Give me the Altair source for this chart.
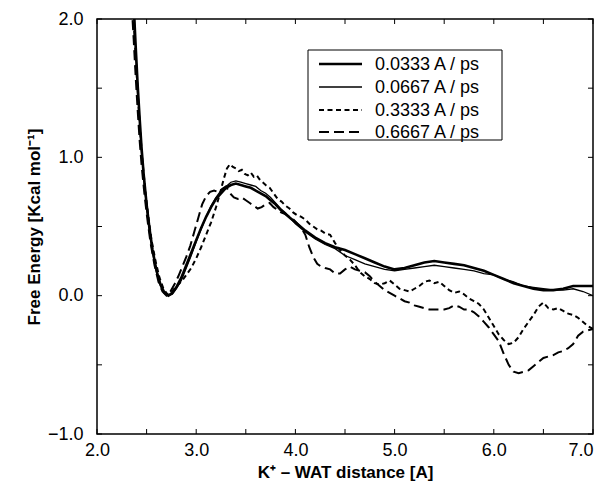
import altair as alt
import pandas as pd

# ---- data ----
x_s1 = [2.37, 2.39, 2.41, 2.43, 2.45, 2.47, 2.50, 2.53, 2.56, 2.60, 2.64, 2.68, 2.72, 2.76, 2.80,
        2.85, 2.90, 2.95, 3.00, 3.05, 3.10, 3.15, 3.20, 3.25, 3.30, 3.35, 3.40, 3.45, 3.50, 3.55,
        3.60, 3.65, 3.70, 3.75, 3.80, 3.85, 3.90, 3.95, 4.00, 4.10, 4.20, 4.30, 4.40, 4.50, 4.60,
        4.70, 4.80, 4.90, 5.00, 5.10, 5.20, 5.30, 5.40, 5.50, 5.60, 5.70, 5.80, 5.90, 6.00, 6.10,
        6.20, 6.30, 6.40, 6.50, 6.60, 6.70, 6.80, 6.90, 7.00]
y_s1 = [2.10, 1.80, 1.52, 1.28, 1.06, 0.88, 0.66, 0.48, 0.33, 0.18, 0.08, 0.02, 0.00, 0.02, 0.06,
        0.13, 0.22, 0.31, 0.40, 0.49, 0.57, 0.64, 0.70, 0.74, 0.78, 0.80, 0.81, 0.80, 0.79, 0.78,
        0.76, 0.74, 0.72, 0.69, 0.66, 0.62, 0.59, 0.56, 0.53, 0.47, 0.42, 0.38, 0.35, 0.33, 0.30,
        0.27, 0.24, 0.21, 0.19, 0.20, 0.22, 0.24, 0.25, 0.24, 0.23, 0.22, 0.20, 0.18, 0.15, 0.12,
        0.09, 0.07, 0.05, 0.04, 0.04, 0.05, 0.07, 0.07, 0.07]

x_s2 = [2.37, 2.39, 2.41, 2.43, 2.45, 2.47, 2.50, 2.53, 2.56, 2.60, 2.64, 2.68, 2.72, 2.76, 2.80,
        2.85, 2.90, 2.95, 3.00, 3.05, 3.10, 3.15, 3.20, 3.25, 3.30, 3.35, 3.40, 3.45, 3.50, 3.55,
        3.60, 3.65, 3.70, 3.75, 3.80, 3.85, 3.90, 3.95, 4.00, 4.10, 4.20, 4.30, 4.40, 4.50, 4.60,
        4.70, 4.80, 4.90, 5.00, 5.10, 5.20, 5.30, 5.40, 5.50, 5.60, 5.70, 5.80, 5.90, 6.00, 6.10,
        6.20, 6.30, 6.40, 6.50, 6.60, 6.70, 6.80, 6.90, 7.00]
y_s2 = [2.10, 1.78, 1.50, 1.26, 1.04, 0.86, 0.64, 0.46, 0.31, 0.17, 0.07, 0.02, 0.00, 0.01, 0.05,
        0.11, 0.20, 0.29, 0.39, 0.48, 0.57, 0.65, 0.71, 0.76, 0.79, 0.82, 0.83, 0.82, 0.81, 0.80,
        0.79, 0.76, 0.74, 0.71, 0.67, 0.63, 0.60, 0.56, 0.52, 0.46, 0.41, 0.37, 0.34, 0.29, 0.26,
        0.23, 0.21, 0.19, 0.18, 0.19, 0.20, 0.21, 0.22, 0.21, 0.20, 0.19, 0.18, 0.16, 0.15, 0.12,
        0.10, 0.07, 0.06, 0.05, 0.04, 0.04, 0.05, 0.03, 0.00]

x_s3 = [2.36, 2.38, 2.40, 2.42, 2.44, 2.46, 2.49, 2.52, 2.55, 2.59, 2.63, 2.67, 2.71, 2.74, 2.78,
        2.82, 2.86, 2.90, 2.95, 3.00, 3.05, 3.10, 3.15, 3.20, 3.24, 3.28, 3.31, 3.34, 3.37, 3.40,
        3.43, 3.46, 3.49, 3.52, 3.55, 3.58, 3.61, 3.64, 3.67, 3.70, 3.74, 3.78, 3.82, 3.86, 3.90,
        3.94, 3.98, 4.02, 4.06, 4.10, 4.14, 4.18, 4.22, 4.26, 4.30, 4.35, 4.40, 4.45, 4.50, 4.55,
        4.60, 4.65, 4.70, 4.75, 4.80, 4.85, 4.90, 4.95, 5.00, 5.05, 5.10, 5.15, 5.20, 5.25, 5.30,
        5.35, 5.40, 5.45, 5.50, 5.55, 5.60, 5.65, 5.70, 5.75, 5.80, 5.85, 5.90, 5.95, 6.00, 6.05,
        6.10, 6.15, 6.20, 6.25, 6.30, 6.35, 6.40, 6.45, 6.50, 6.55, 6.60, 6.65, 6.70, 6.75, 6.80,
        6.85, 6.90, 6.95, 7.00]
y_s3 = [2.10, 1.85, 1.60, 1.36, 1.14, 0.96, 0.74, 0.56, 0.40, 0.25, 0.13, 0.05, 0.01, 0.02, 0.05,
        0.08, 0.11, 0.15, 0.20, 0.27, 0.35, 0.44, 0.53, 0.64, 0.74, 0.85, 0.92, 0.95, 0.93, 0.92,
        0.90, 0.91, 0.88, 0.87, 0.89, 0.86, 0.87, 0.84, 0.82, 0.80, 0.78, 0.74, 0.70, 0.68, 0.65,
        0.63, 0.60, 0.58, 0.57, 0.55, 0.52, 0.50, 0.48, 0.47, 0.45, 0.44, 0.38, 0.33, 0.29, 0.26,
        0.22, 0.17, 0.14, 0.12, 0.09, 0.08, 0.09, 0.11, 0.08, 0.05, 0.04, 0.03, 0.05, 0.07, 0.10,
        0.11, 0.09, 0.10, 0.07, 0.04, 0.02, 0.03, 0.01, -0.02, -0.04, -0.06, -0.10, -0.16, -0.22, -0.28,
        -0.32, -0.35, -0.34, -0.30, -0.24, -0.19, -0.14, -0.08, -0.05, -0.09, -0.10, -0.09, -0.11, -0.13, -0.14,
        -0.16, -0.19, -0.22, -0.24]

x_s4 = [2.35, 2.37, 2.39, 2.41, 2.43, 2.45, 2.48, 2.51, 2.54, 2.58, 2.62, 2.66, 2.70, 2.74, 2.78,
        2.82, 2.86, 2.90, 2.94, 2.98, 3.02, 3.06, 3.10, 3.14, 3.18, 3.22, 3.26, 3.30, 3.34, 3.38,
        3.42, 3.46, 3.50, 3.54, 3.58, 3.62, 3.66, 3.70, 3.74, 3.78, 3.82, 3.86, 3.90, 3.94, 3.98,
        4.02, 4.06, 4.10, 4.14, 4.18, 4.22, 4.26, 4.30, 4.35, 4.40, 4.45, 4.50, 4.55, 4.60, 4.65,
        4.70, 4.75, 4.80, 4.85, 4.90, 4.95, 5.00, 5.05, 5.10, 5.15, 5.20, 5.25, 5.30, 5.35, 5.40,
        5.45, 5.50, 5.55, 5.60, 5.65, 5.70, 5.75, 5.80, 5.85, 5.90, 5.95, 6.00, 6.05, 6.10, 6.15,
        6.20, 6.25, 6.30, 6.35, 6.40, 6.45, 6.50, 6.55, 6.60, 6.65, 6.70, 6.75, 6.80, 6.85, 6.90,
        6.95, 7.00]
y_s4 = [2.10, 1.85, 1.58, 1.34, 1.12, 0.94, 0.72, 0.54, 0.38, 0.22, 0.10, 0.03, 0.00, 0.03, 0.08,
        0.14, 0.21, 0.28, 0.36, 0.46, 0.56, 0.66, 0.72, 0.75, 0.76, 0.75, 0.77, 0.79, 0.74, 0.71,
        0.70, 0.71, 0.69, 0.67, 0.65, 0.63, 0.64, 0.66, 0.67, 0.64, 0.62, 0.60, 0.59, 0.57, 0.55,
        0.52, 0.49, 0.44, 0.35, 0.28, 0.23, 0.21, 0.20, 0.19, 0.16, 0.16, 0.19, 0.21, 0.19, 0.18,
        0.17, 0.14, 0.10, 0.07, 0.04, 0.02, 0.00, -0.02, -0.04, -0.05, -0.07, -0.08, -0.09, -0.10, -0.10,
        -0.10, -0.10, -0.09, -0.07, -0.08, -0.10, -0.10, -0.12, -0.15, -0.19, -0.23, -0.28, -0.33, -0.42, -0.50,
        -0.55, -0.56, -0.55, -0.54, -0.51, -0.48, -0.45, -0.44, -0.43, -0.41, -0.40, -0.38, -0.35, -0.29, -0.26,
        -0.25, -0.24]

series_labels = ["0.0333 A / ps", "0.0667 A / ps", "0.3333 A / ps", "0.6667 A / ps"]
x_tick_values = [2.0, 2.5, 3.0, 3.5, 4.0, 4.5, 5.0, 5.5, 6.0, 6.5, 7.0]
y_tick_values = [-1.0, -0.5, 0.0, 0.5, 1.0, 1.5, 2.0]
x_label_values = [2.0, 3.0, 4.0, 5.0, 6.0, 7.0]
y_label_values = [-1.0, 0.0, 1.0, 2.0]

# ---- styling ----
FONT = "Liberation Sans"
W, H = 496, 415
XT = "K⁺ – WAT distance [A]"
YT = "Free Energy [Kcal mol⁻¹]"
styles = [
    dict(strokeWidth=2.6),
    dict(strokeWidth=1.3),
    dict(strokeWidth=2.0, strokeDash=[5, 3.5]),
    dict(strokeWidth=2.0, strokeDash=[10, 5]),
]

xscale = alt.Scale(domain=[2, 7], nice=False, zero=False)
yscale = alt.Scale(domain=[-1, 2], nice=False, zero=False)

x_axis = alt.Axis(
    values=x_label_values, format=".1f", title=XT,
    grid=False, ticks=False, tickSize=0, domain=False, labelFlush=False,
    labelAlign={"condition": {"test": "datum.value >= 7", "value": "right"}, "value": "center"},
    labelFont=FONT, labelFontSize=18, labelColor="black", labelPadding=7,
    titleFont=FONT, titleFontSize=17, titleFontWeight="bold", titleColor="black",
    titlePadding=5)
y_axis = alt.Axis(
    values=y_label_values, format=".1f", title=YT,
    grid=False, ticks=False, tickSize=0, domain=False, labelFlush=False,
    labelFont=FONT, labelFontSize=18, labelColor="black", labelPadding=14,
    titleFont=FONT, titleFontSize=17, titleFontWeight="bold", titleColor="black",
    titlePadding=4)

xs = [x_s1, x_s2, x_s3, x_s4]
ys = [y_s1, y_s2, y_s3, y_s4]

layers = []

# curves
for xv, yv, lab, st in zip(xs, ys, series_labels, styles):
    df = pd.DataFrame({"x": xv, "y": yv, "series": lab})
    layers.append(
        alt.Chart(df).mark_line(color="black", clip=True, **st).encode(
            x=alt.X("x:Q", scale=xscale, axis=x_axis, title=XT),
            y=alt.Y("y:Q", scale=yscale, axis=y_axis, title=YT),
            order="x:Q",
        )
    )

# inward ticks on all four sides
xt = pd.DataFrame({"x": x_tick_values})
yt = pd.DataFrame({"y": y_tick_values})
TL = 5
layers.append(alt.Chart(xt).mark_rule(color="black", strokeWidth=1).encode(
    x=alt.X("x:Q", scale=xscale, axis=x_axis, title=XT),
    y=alt.value(H), y2=alt.value(H - TL)))
layers.append(alt.Chart(xt).mark_rule(color="black", strokeWidth=1).encode(
    x=alt.X("x:Q", scale=xscale, axis=x_axis, title=XT),
    y=alt.value(0), y2=alt.value(TL)))
layers.append(alt.Chart(yt).mark_rule(color="black", strokeWidth=1).encode(
    y=alt.Y("y:Q", scale=yscale, axis=y_axis, title=YT),
    x=alt.value(0), x2=alt.value(TL)))
layers.append(alt.Chart(yt).mark_rule(color="black", strokeWidth=1).encode(
    y=alt.Y("y:Q", scale=yscale, axis=y_axis, title=YT),
    x=alt.value(W), x2=alt.value(W - TL)))

# legend box
box_df = pd.DataFrame({"k": [0]})
layers.append(alt.Chart(box_df).mark_rect(fill="white", stroke="black", strokeWidth=1).encode(
    x=alt.value(211), x2=alt.value(405), y=alt.value(31), y2=alt.value(121)))

row_y = [45, 68, 91, 113]
for lab, st, ry in zip(series_labels, styles, row_y):
    ldf = pd.DataFrame({"label": [lab]})
    layers.append(alt.Chart(ldf).mark_rule(color="black", **st).encode(
        x=alt.value(222), x2=alt.value(265), y=alt.value(ry)))
    layers.append(alt.Chart(ldf).mark_text(
        font=FONT, fontSize=18, align="left", baseline="middle", color="black").encode(
        text="label:N", x=alt.value(278), y=alt.value(ry + 1)))

chart = alt.layer(*layers).properties(
    width=W, height=H,
    autosize=alt.AutoSizeParams(type="none"),
    padding={"left": 89, "top": 11, "right": 4, "bottom": 50},
    background="white",
).configure_view(stroke="black", strokeWidth=1.5)

chart.save("out.html", embed_options={"renderer": "svg", "actions": False})
